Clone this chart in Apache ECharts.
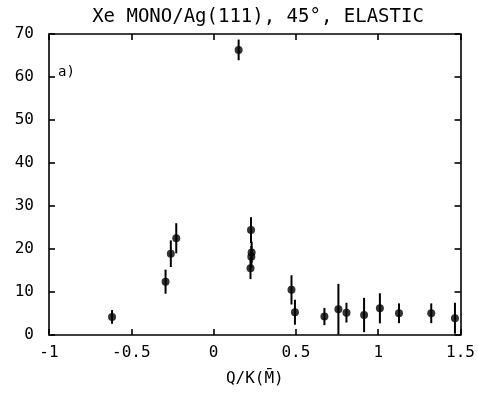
<!DOCTYPE html>
<html><head><meta charset="utf-8">
<script src="https://cdn.jsdelivr.net/npm/echarts@6/dist/echarts.min.js"></script>
<style>html,body{margin:0;padding:0;background:#fff}#c{width:478px;height:393px}</style>
</head><body><div id="c"></div>
<script>
const titleText = "Xe MONO/Ag(111), 45°, ELASTIC";
const xName = "Q/K(M\u0304)";
const panelLabel = "a)";
const xVals = [-0.617, -0.292, -0.26, -0.227, 0.152, 0.227, 0.231, 0.229, 0.224, 0.473, 0.494, 0.673, 0.758, 0.807, 0.914, 1.01, 1.126, 1.322, 1.466];
const yVals = [4.2, 12.4, 18.9, 22.5, 66.3, 24.4, 19.2, 18.2, 15.5, 10.5, 5.3, 4.3, 6.0, 5.2, 4.65, 6.2, 5.05, 5.05, 3.9];
const errVals = [1.6, 2.8, 3.1, 3.5, 2.4, 3.0, 2.5, 2.5, 2.5, 3.4, 2.9, 2.0, 5.9, 2.3, 4.0, 3.5, 2.3, 2.3, 3.6];
const xTicks = [-1, -0.5, 0, 0.5, 1, 1.5];
const yTicks = [0, 10, 20, 30, 40, 50, 60, 70];

const font = "DejaVu Sans Mono";
const pts = xVals.map((x, i) => [x, yVals[i], errVals[i]]);
const chart = echarts.init(document.getElementById('c'));
const lineStyle = {color: '#000', width: 1.6};
chart.setOption({
  animation: false,
  backgroundColor: '#fff',
  title: {text: titleText, left: 253, top: 3, textAlign: 'center',
    textStyle: {fontFamily: font, fontSize: 19, fontWeight: 'normal', color: '#000'}},
  grid: {left: 49, right: 16, top: 34, bottom: 58},
  xAxis: [{
    type: 'value', min: -1, max: 1.5, interval: 0.5, position: 'bottom',
    name: xName, nameLocation: 'middle', nameGap: 36,
    nameTextStyle: {fontFamily: font, fontSize: 16, color: '#000'},
    axisLine: {lineStyle: lineStyle, onZero: false},
    axisTick: {inside: true, length: 6, lineStyle: lineStyle},
    axisLabel: {fontFamily: font, fontSize: 16, color: '#000', margin: 10,
      formatter: v => xTicks.includes(v) ? String(v) : ''},
    splitLine: {show: false}
  }, {
    type: 'value', min: -1, max: 1.5, interval: 0.5, position: 'top',
    axisLine: {lineStyle: lineStyle, onZero: false},
    axisTick: {inside: true, length: 6, lineStyle: lineStyle},
    axisLabel: {show: false}, splitLine: {show: false}
  }],
  yAxis: [{
    type: 'value', min: 0, max: 70, interval: 10, position: 'left',
    axisLine: {show: true, lineStyle: lineStyle, onZero: false},
    axisTick: {inside: true, length: 6, lineStyle: lineStyle},
    axisLabel: {fontFamily: font, fontSize: 16, color: '#000', margin: 15,
      formatter: v => yTicks.includes(v) ? String(v) : ''},
    splitLine: {show: false}
  }, {
    type: 'value', min: 0, max: 70, interval: 10, position: 'right',
    axisLine: {show: true, lineStyle: lineStyle, onZero: false},
    axisTick: {inside: true, length: 6, lineStyle: lineStyle},
    axisLabel: {show: false}, splitLine: {show: false}
  }],
  graphic: [{type: 'text', left: 58, top: 65,
    style: {text: panelLabel, font: '14px "DejaVu Sans Mono"', fill: '#000'}}],
  series: [{
    type: 'custom', xAxisIndex: 0, yAxisIndex: 0, data: pts,
    renderItem: (params, api) => {
      const x = api.value(0), y = api.value(1), e = api.value(2);
      const lo = api.coord([x, y - e]), hi = api.coord([x, y + e]);
      return {type: 'line', shape: {x1: lo[0], y1: lo[1], x2: hi[0], y2: hi[1]},
        style: {stroke: '#000', lineWidth: 2}};
    }
  }, {
    type: 'scatter', xAxisIndex: 0, yAxisIndex: 0, data: pts.map(p => [p[0], p[1]]),
    symbol: 'circle', symbolSize: 8, itemStyle: {color: '#000'}
  }]
});
</script></body></html>
